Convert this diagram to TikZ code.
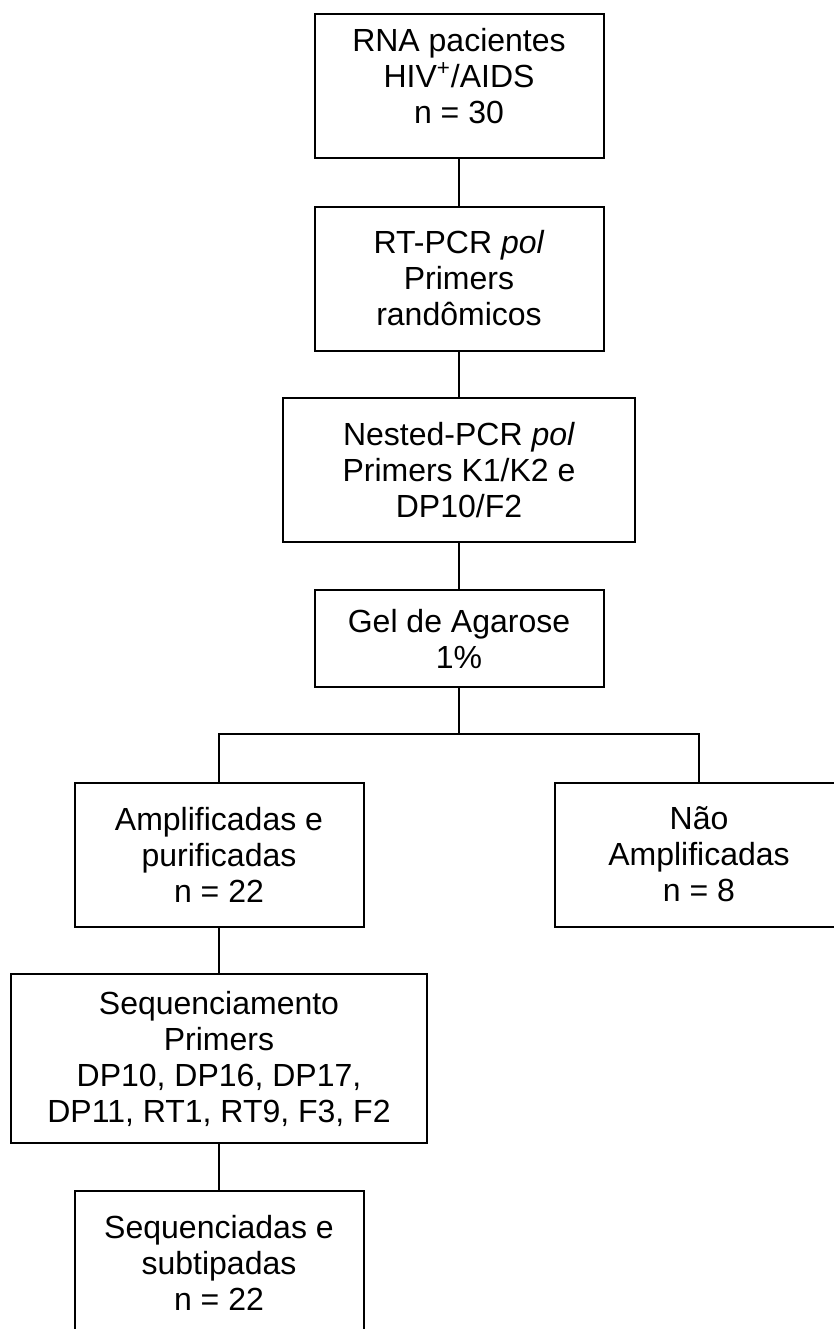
\documentclass[tikz,border=0pt]{standalone}
\usepackage{fontspec}
\setmainfont{Liberation Sans}
\usepackage{tikz}

\begin{document}
\begin{tikzpicture}[x=0.5pt,y=-0.5pt,
  caixa/.style={draw,line width=1pt,align=center,inner sep=0pt,
    font=\fontsize{16}{18}\selectfont,minimum width=144.5pt,minimum height=72pt}]

\useasboundingbox (0,0) rectangle (834,1329);
\clip (0,0) rectangle (834,1329);

\node[caixa] (rna) at (459,86) {RNA pacientes\\HIV\textsuperscript{+}/AIDS\\n = 30\\[-8pt]};
\node[caixa] (rtpcr) at (459,278.5) {RT-PCR \textit{pol}\\Primers\\randômicos};
\node[caixa,minimum width=176pt] (nested) at (459,470) {Nested-PCR \textit{pol}\\Primers K1/K2 e\\DP10/F2};
\node[caixa,minimum height=48.5pt] (gel) at (459,638.5) {Gel de Agarose\\1\%};

\node[caixa] (amp) at (219,854.5) {Amplificadas e\\purificadas\\n = 22};
\node[caixa] (naoamp) at (699,854.5) {Não\\Amplificadas\\n = 8};

\node[caixa,minimum width=208pt,minimum height=84.5pt] (seq) at (219,1058.5) {Sequenciamento\\Primers\\DP10, DP16, DP17,\\DP11, RT1, RT9, F3, F2};
\node[caixa] (subt) at (219,1263) {Sequenciadas e\\subtipadas\\n = 22};

\coordinate (split) at (459,734);

\draw[line width=1pt] (rna) -- (rtpcr);
\draw[line width=1pt] (rtpcr) -- (nested);
\draw[line width=1pt] (nested) -- (gel);
\draw[line width=1pt] (gel) -- (split);
\draw[line width=1pt] (amp.north) |- (split) -| (naoamp.north);
\draw[line width=1pt] (amp) -- (seq);
\draw[line width=1pt] (seq) -- (subt);

\end{tikzpicture}
\end{document}
